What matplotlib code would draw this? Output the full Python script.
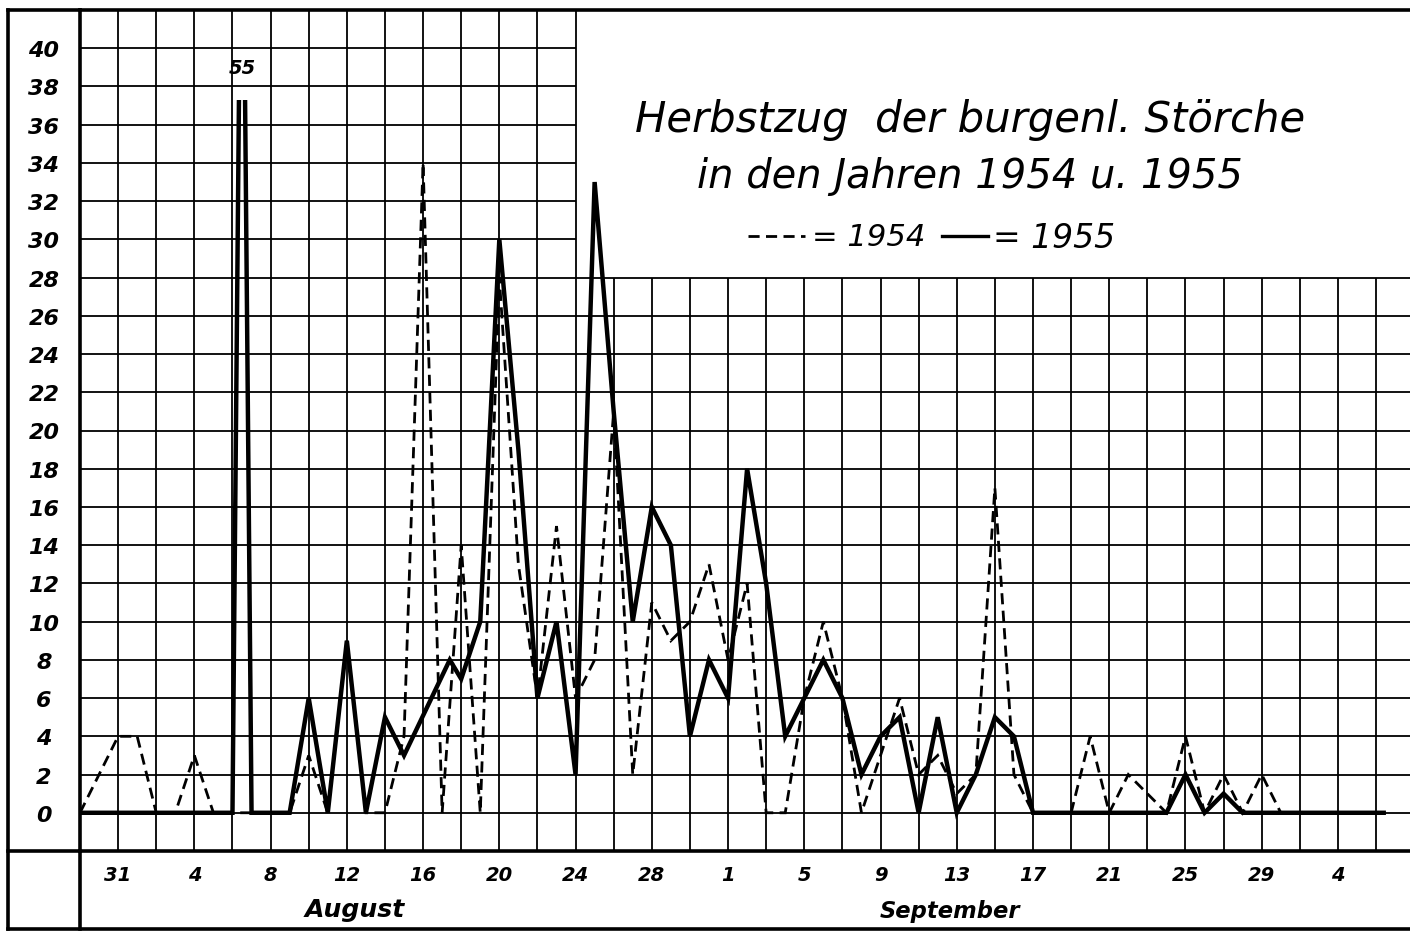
import matplotlib
matplotlib.use("Agg")
import matplotlib.pyplot as plt
import matplotlib.font_manager as fm
from matplotlib.lines import Line2D
from matplotlib.patches import Rectangle

# ---------------- data (x = days counted from 29 July) ----------------
days_1954 = [0, 2, 3, 4, 5, 6, 7,
             11, 12, 13, 14, 15, 16, 17, 18, 19, 20, 21, 22, 23, 24, 25, 26,
             27, 28, 29, 30, 31, 32, 33, 34, 35, 36, 37, 38, 39, 40, 41,
             43, 44, 45, 46, 47, 48, 49, 50,
             52, 53, 54, 55, 57, 58, 59, 60, 61, 62, 63, 68.4]
storks_1954 = [0, 4, 4, 0, 0, 3, 0,
               0, 3, 0, 9, 0, 0, 4, 34, 0, 14, 0, 28, 13, 6, 15, 6,
               8, 21, 2, 11, 9, 10, 13, 8, 12, 0, 0, 6, 10, 6, 0,
               6, 2, 3, 1, 2, 17, 2, 0,
               0, 4, 0, 2, 0, 4, 0, 2, 0, 2, 0, 0]

days_1955 = [0, 8, 8.5, 9, 11, 12, 13, 14, 15, 16, 17, 19.4, 20, 21,
             22, 23, 24, 25, 26, 27, 28, 29, 30, 31, 32, 33, 34, 35, 36,
             37, 38, 39, 40, 41, 42, 43, 44, 45, 46, 47, 48, 49, 50,
             57, 58, 59, 60, 61, 68.4]
storks_1955 = [0, 0, 55, 0, 0, 6, 0, 9, 0, 5, 3, 8, 7, 10,
               30, 19, 6, 10, 2, 33, 21, 10, 16, 14, 4, 8, 6, 18, 12,
               4, 6, 8, 6, 2, 4, 5, 0, 5, 0, 2, 5, 4, 0,
               0, 2, 0, 1, 0, 0]

tick_days = [2, 6, 10, 14, 18, 22, 26, 30, 34, 38, 42, 46, 50, 54, 58, 62, 66]
tick_labels = ["31", "4", "8", "12", "16", "20", "24", "28", "1", "5", "9",
               "13", "17", "21", "25", "29", "4"]
y_ticks = [0, 2, 4, 6, 8, 10, 12, 14, 16, 18, 20, 22, 24, 26, 28, 30, 32,
           34, 36, 38, 40]
month_labels = ["August", "September"]
title_lines = ["Herbstzug  der burgenl. Störche", "in den Jahren 1954 u. 1955"]
legend_labels = ["= 1954", "= 1955"]
spike_label = "55"

# ---------------- fonts ----------------
names = {f.name for f in fm.fontManager.ttflist}
hand = "Liberation Sans Narrow" if "Liberation Sans Narrow" in names else "DejaVu Sans"

# ---------------- layout ----------------
W, H = 1410, 937
PX_DAY = 19.06
fig = plt.figure(figsize=(W / 100, H / 100), dpi=100)
fig.patch.set_facecolor("white")
XMAX = (W - 80) / PX_DAY
ax = fig.add_axes([80 / W, 1 - 852 / H, 1 - 80 / W, (852 - 11) / H])
ax.set_xlim(0, XMAX)
ax.set_ylim(-2, 42)

BOX_DAY, BOX_VAL = 26, 28   # white title box (grid omitted there)
grid_kw = dict(color="black", lw=1.3, zorder=1)
for d in range(2, int(XMAX) + 1, 2):
    ax.vlines(d, -2, 42 if d <= BOX_DAY else BOX_VAL, **grid_kw)
for v in range(0, 42, 2):
    ax.hlines(v, 0, XMAX if v <= BOX_VAL else BOX_DAY, **grid_kw)

for side in ["left", "top", "bottom"]:
    ax.spines[side].set_linewidth(2.6)
ax.spines["right"].set_visible(False)

tick_font = dict(family=hand, fontweight="bold", fontstyle="italic")
ax.set_xticks(tick_days)
ax.set_xticklabels(tick_labels, fontsize=14, **tick_font)
ax.set_yticks(y_ticks)
ax.set_yticklabels([str(v) for v in y_ticks], fontsize=16, **tick_font)
ax.tick_params(axis="both", length=0)
ax.tick_params(axis="x", pad=10)
ax.tick_params(axis="y", pad=26)
for lbl in ax.get_yticklabels():
    lbl.set_horizontalalignment("center")

# series
l55, = ax.plot(days_1955, storks_1955, color="black", lw=3.2,
               solid_joinstyle="miter", zorder=4)
clip = Rectangle((0, -2), XMAX, 39.3, transform=ax.transData)
l55.set_clip_path(clip)
ax.plot(days_1954, storks_1954, color="black", lw=2.0, ls=(0, (4, 2.3)),
        dash_joinstyle="miter", zorder=3)
ax.text(8.5, 39.0, spike_label, ha="center", va="center", fontsize=14,
        **tick_font)

# outer frame (label column / label row)
frame_kw = dict(color="black", lw=2.6, transform=fig.transFigure)
def fl(x0, y0, x1, y1, **kw):
    fig.add_artist(Line2D([x0 / W, x1 / W], [1 - y0 / H, 1 - y1 / H], **kw))
fl(8, 11, 8, 930, **frame_kw)
fl(8, 11, 80, 11, **frame_kw)
fl(8, 930, W, 930, **frame_kw)
fl(8, 852, 80, 852, **frame_kw)
fl(80, 852, 80, 930, **frame_kw)

# texts fitted to widths
renderer = fig.canvas.get_renderer()
def fit_text(s, x, y, width, ha="center", **kw):
    t = fig.text(x / W, 1 - y / H, s, ha=ha, va="center", fontsize=20, **kw)
    w = t.get_window_extent(renderer).width
    t.set_fontsize(20 * width / w)
    return t

title_font = dict(family=hand, fontstyle="italic")
fit_text(title_lines[0], 970, 120, 670, **title_font)
fit_text(title_lines[1], 970, 177, 545, **title_font)
fl(748, 237, 805, 237, color="black", lw=2.0, ls=(0, (4, 2.3)), transform=fig.transFigure)
fit_text(legend_labels[0], 812, 238, 113, ha="left", **title_font)
fl(942, 237, 988, 237, color="black", lw=2.4, transform=fig.transFigure)
fit_text(legend_labels[1], 993, 238, 122, ha="left", **title_font)

fit_text(month_labels[0], 355, 910, 100, **tick_font)
fit_text(month_labels[1], 950, 912, 140, **tick_font)

fig.savefig("out.png", dpi=100, facecolor="white")
